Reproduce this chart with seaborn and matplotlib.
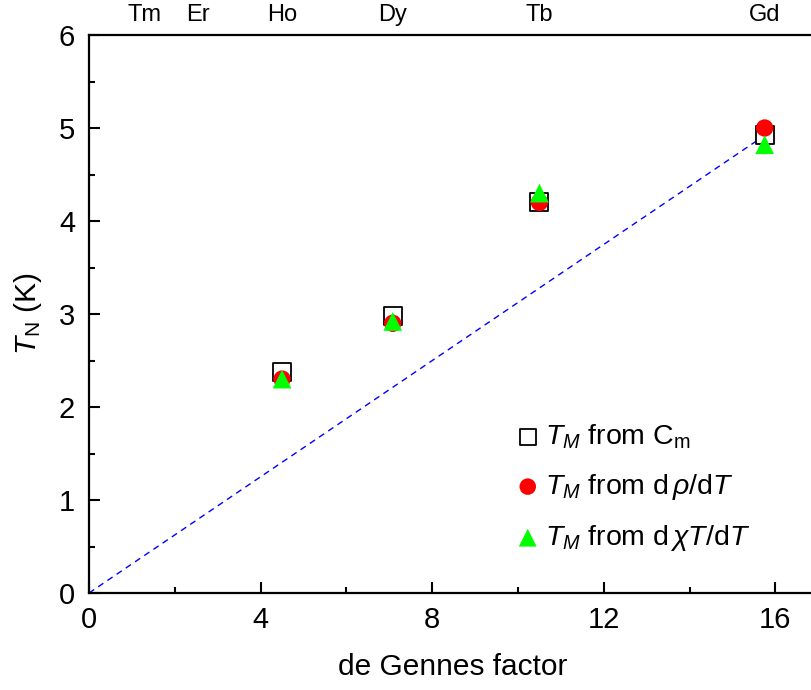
import matplotlib
matplotlib.use("Agg")
import matplotlib.pyplot as plt
import seaborn as sns
import pandas as pd
from matplotlib.ticker import MultipleLocator
import matplotlib.transforms as mtrans

# ---- data ----
dg_factor = [4.5, 7.08, 10.5, 15.75]
tm_cm = [2.38, 2.98, 4.2, 4.92]
tm_drho = [2.3, 2.9, 4.2, 5.0]
tm_dchi = [2.3, 2.92, 4.3, 4.82]
line_x = [0.0, 15.75]
line_y = [0.0, 4.92]
elements = ["Tm", "Er", "Ho", "Dy", "Tb", "Gd"]
element_dg = [1.3, 2.55, 4.5, 7.08, 10.5, 15.75]

sns.set_theme(style="ticks")
plt.rcParams["font.family"] = ["Liberation Sans", "DejaVu Sans"]
plt.rcParams["mathtext.fontset"] = "custom"
plt.rcParams["mathtext.rm"] = "Liberation Sans"
plt.rcParams["mathtext.it"] = "Liberation Sans:italic"
plt.rcParams["mathtext.bf"] = "Liberation Sans:bold"
for k in ["text.color", "axes.labelcolor", "xtick.color", "ytick.color",
          "axes.edgecolor"]:
    plt.rcParams[k] = "black"

fig = plt.figure(figsize=(8.12, 6.9), dpi=100)
ax = fig.add_axes([89 / 812, 1 - 593 / 690, (816 - 89) / 812, (593 - 35) / 690])

df_line = pd.DataFrame({"x": line_x, "y": line_y})
sns.lineplot(data=df_line, x="x", y="y", ax=ax, color="#0000ff", lw=1.0,
             dashes=False, zorder=1)
ax.lines[-1].set_dashes((4.5, 3.5))

df = pd.DataFrame({"dg": dg_factor, "cm": tm_cm, "drho": tm_drho, "dchi": tm_dchi})
sns.scatterplot(data=df, x="dg", y="cm", ax=ax, marker="s", s=12.5**2,
                facecolor="white", edgecolor="black", linewidth=1.3, zorder=3,
                label=r"$T_M$ from C$_{\rm m}$")
sns.scatterplot(data=df, x="dg", y="drho", ax=ax, marker="o", s=12.5**2,
                color="#ff0000", edgecolor="none", zorder=4,
                label=r"$T_M$ from d$\,\rho$/d$T$")
sns.scatterplot(data=df, x="dg", y="dchi", ax=ax, marker="^", s=13.5**2,
                color="#00ff00", edgecolor="none", zorder=5,
                label=r"$T_M$ from d$\,\chi T$/d$T$")

ax.set_xlim(0, 727 / 42.9)
ax.set_ylim(0, 6)
ax.xaxis.set_major_locator(MultipleLocator(4))
ax.xaxis.set_minor_locator(MultipleLocator(2))
ax.yaxis.set_major_locator(MultipleLocator(1))
ax.yaxis.set_minor_locator(MultipleLocator(0.5))
ax.tick_params(which="both", direction="in", width=1.5, labelsize=21,
               top=False, right=False, colors="black")
ax.tick_params(axis="x", pad=9)
ax.tick_params(axis="y", pad=10)
ax.tick_params(which="major", length=8)
ax.tick_params(which="minor", length=4.5)
for sp in ax.spines.values():
    sp.set_linewidth(1.6)
    sp.set_visible(True)
    sp.set_color("black")

ax.set_xlabel("de Gennes factor", fontsize=21.5, labelpad=14)
ax.set_ylabel(r"$T_{\rm N}$ (K)", fontsize=21.5, labelpad=11)

trans = mtrans.blended_transform_factory(ax.transData, ax.transAxes)
for name, xv in zip(elements, element_dg):
    ax.text(xv, 1.035, name, transform=trans, ha="center", va="center",
            fontsize=17)

leg = ax.legend(loc="lower right", bbox_to_anchor=(0.925, 0.051), frameon=False,
                fontsize=20.5, handlelength=1.0, handletextpad=0.1,
                labelspacing=0.74, borderaxespad=0, markerscale=0.95)

fig.savefig("out.png", dpi=100)
